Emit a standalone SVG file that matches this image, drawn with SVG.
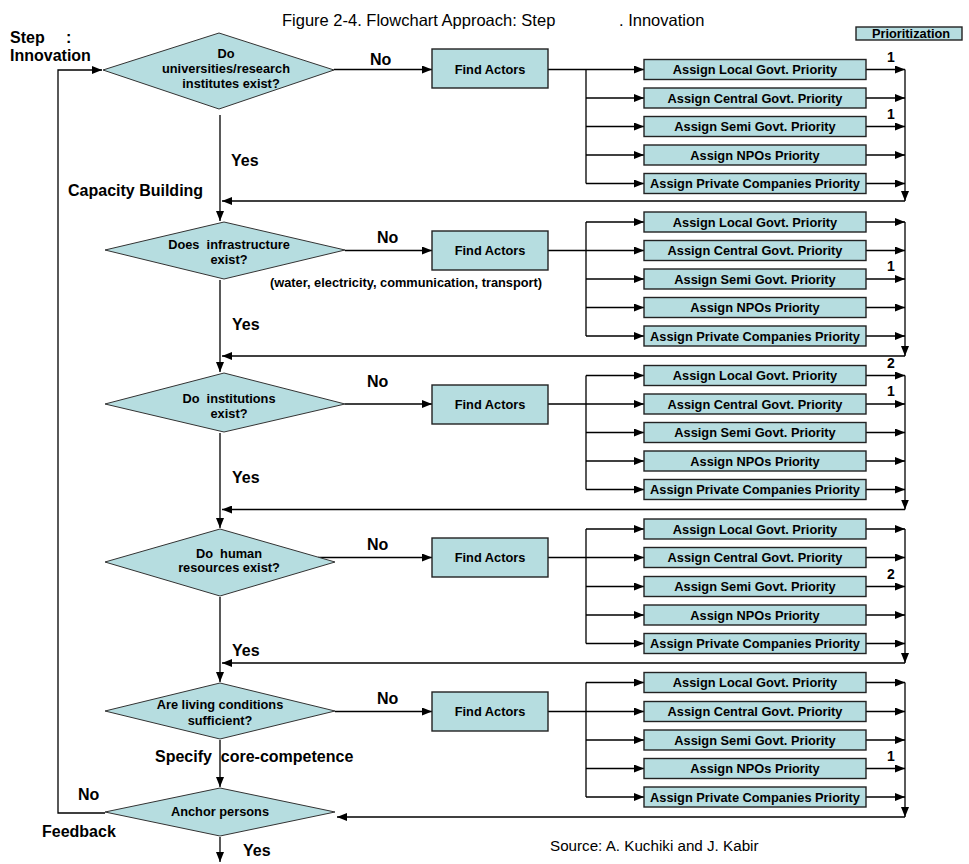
<svg xmlns="http://www.w3.org/2000/svg" width="969" height="864" viewBox="0 0 969 864">
<style>
text{font-family:"Liberation Sans",Arial,sans-serif;fill:#000}
.b{font-weight:bold}
.lbl{font-size:16px;font-weight:bold}
.nt{font-size:12.8px;font-weight:bold;text-anchor:middle}
.num{font-size:14px;font-weight:bold;text-anchor:middle}
.box{fill:#b6dde0;stroke:#222;stroke-width:1.4}
.dia{fill:#b6dde0;stroke:#333;stroke-width:1}
.ln{fill:none;stroke:#000;stroke-width:1.3}
.ar{marker-end:url(#ah)}
</style>
<defs>
<marker id="ah" viewBox="0 0 10 8" refX="10" refY="4" markerWidth="10" markerHeight="8" markerUnits="userSpaceOnUse" orient="auto">
<path d="M0,0 L10,4 L0,8 z" fill="#000"/>
</marker>
</defs>
<rect width="969" height="864" fill="#fff"/>

<text x="282" y="26" font-size="16.5">Figure 2-4. Flowchart Approach: Step<tspan x="619">. Innovation</tspan></text>
<text x="10" y="43" class="lbl">Step<tspan x="66">:</tspan></text>
<text x="10" y="61" class="lbl">Innovation</text>
<text x="550" y="851" font-size="15.2">Source: A. Kuchiki and J. Kabir</text>

<g id="prioritization">
<rect class="box" x="856" y="27" width="106" height="13"/>
<text class="nt" x="911" y="37.5" font-size="12">Prioritization</text>
</g>

<g id="connectors">
<path class="ln ar" d="M220,115 V221"/>
<path class="ln ar" d="M220,280 V372"/>
<path class="ln ar" d="M220,433 V528"/>
<path class="ln ar" d="M220,597 V682"/>
<path class="ln ar" d="M220,740 V787"/>
<path class="ln ar" d="M220,837 V862"/>
<path class="ln ar" d="M105,813 H58 V70 H102"/>
<path class="ln ar" d="M334,69.5 H432"/>
<path class="ln ar" d="M345,250.5 H432"/>
<path class="ln ar" d="M345,404 H432"/>
<path class="ln ar" d="M318,557.5 H432"/>
<path class="ln ar" d="M335,711.5 H432"/>
<!-- section 1 -->
<path class="ln" d="M548,69.5 H586 M586,69.5 V183.5"/>
<path class="ln ar" d="M586,69.5 H644"/>
<path class="ln ar" d="M586,98 H644"/>
<path class="ln ar" d="M586,126.5 H644"/>
<path class="ln ar" d="M586,155 H644"/>
<path class="ln ar" d="M586,183.5 H644"/>
<path class="ln ar" d="M866,69.5 H905"/>
<path class="ln ar" d="M866,98 H905"/>
<path class="ln ar" d="M866,126.5 H905"/>
<path class="ln ar" d="M866,155 H905"/>
<path class="ln ar" d="M866,183.5 H905"/>
<path class="ln ar" d="M905,69.5 V201"/>
<path class="ln ar" d="M905,201 H222"/>
<!-- section 2 -->
<path class="ln" d="M548,250.5 H586 M586,222 V336"/>
<path class="ln ar" d="M586,222 H644"/>
<path class="ln ar" d="M586,250.5 H644"/>
<path class="ln ar" d="M586,279 H644"/>
<path class="ln ar" d="M586,307.5 H644"/>
<path class="ln ar" d="M586,336 H644"/>
<path class="ln ar" d="M866,222 H905"/>
<path class="ln ar" d="M866,250.5 H905"/>
<path class="ln ar" d="M866,279 H905"/>
<path class="ln ar" d="M866,307.5 H905"/>
<path class="ln ar" d="M866,336 H905"/>
<path class="ln ar" d="M905,222 V356"/>
<path class="ln ar" d="M905,356 H222"/>
<!-- section 3 -->
<path class="ln" d="M548,404 H586 M586,375.5 V489.5"/>
<path class="ln ar" d="M586,375.5 H644"/>
<path class="ln ar" d="M586,404 H644"/>
<path class="ln ar" d="M586,432.5 H644"/>
<path class="ln ar" d="M586,461 H644"/>
<path class="ln ar" d="M586,489.5 H644"/>
<path class="ln ar" d="M866,375.5 H905"/>
<path class="ln ar" d="M866,404 H905"/>
<path class="ln ar" d="M866,432.5 H905"/>
<path class="ln ar" d="M866,461 H905"/>
<path class="ln ar" d="M866,489.5 H905"/>
<path class="ln ar" d="M905,375.5 V509.5"/>
<path class="ln ar" d="M905,509.5 H222"/>
<!-- section 4 -->
<path class="ln" d="M548,557.5 H586 M586,529 V643.5"/>
<path class="ln ar" d="M586,529 H644"/>
<path class="ln ar" d="M586,557.5 H644"/>
<path class="ln ar" d="M586,586.5 H644"/>
<path class="ln ar" d="M586,615 H644"/>
<path class="ln ar" d="M586,643.5 H644"/>
<path class="ln ar" d="M866,529 H905"/>
<path class="ln ar" d="M866,557.5 H905"/>
<path class="ln ar" d="M866,586.5 H905"/>
<path class="ln ar" d="M866,615 H905"/>
<path class="ln ar" d="M866,643.5 H905"/>
<path class="ln ar" d="M905,529 V663"/>
<path class="ln ar" d="M905,663 H222"/>
<!-- section 5 -->
<path class="ln" d="M548,711.5 H586 M586,682.5 V797"/>
<path class="ln ar" d="M586,682.5 H644"/>
<path class="ln ar" d="M586,711.5 H644"/>
<path class="ln ar" d="M586,740 H644"/>
<path class="ln ar" d="M586,768.5 H644"/>
<path class="ln ar" d="M586,797 H644"/>
<path class="ln ar" d="M866,682.5 H905"/>
<path class="ln ar" d="M866,711.5 H905"/>
<path class="ln ar" d="M866,740 H905"/>
<path class="ln ar" d="M866,768.5 H905"/>
<path class="ln ar" d="M866,797 H905"/>
<path class="ln ar" d="M905,682.5 V817"/>
<path class="ln ar" d="M905,817 H337"/>
</g>

<g id="edge-labels">
<text class="lbl" x="370" y="65">No</text>
<text class="lbl" x="231" y="166">Yes</text>
<text class="lbl" x="68" y="196">Capacity Building</text>
<text class="lbl" x="377" y="243">No</text>
<text x="270" y="287" font-size="12.8" class="b">(water, electricity, communication, transport)</text>
<text class="lbl" x="232" y="330">Yes</text>
<text class="lbl" x="367" y="387">No</text>
<text class="lbl" x="232" y="483">Yes</text>
<text class="lbl" x="367" y="550">No</text>
<text class="lbl" x="232" y="656">Yes</text>
<text class="lbl" x="377" y="704">No</text>
<text class="lbl" x="155" y="762" xml:space="preserve">Specify  core-competence</text>
<text class="lbl" x="78" y="800">No</text>
<text class="lbl" x="42" y="837">Feedback</text>
<text class="lbl" x="243" y="856">Yes</text>
<text class="num" x="891" y="61.5">1</text>
<text class="num" x="891" y="118.5">1</text>
<text class="num" x="891" y="271">1</text>
<text class="num" x="891" y="367.5">2</text>
<text class="num" x="891" y="396">1</text>
<text class="num" x="891" y="578.5">2</text>
<text class="num" x="891" y="760.5">1</text>
</g>

<g id="d1">
<polygon class="dia" points="103,70 219,33 334,70 219,109"/>
<text class="nt" x="226" y="58">Do</text>
<text class="nt" x="226" y="73">universities/research</text>
<text class="nt" x="231" y="88">institutes exist?</text>
</g>
<g id="d2">
<polygon class="dia" points="105,250 224,222 345,250 224,279"/>
<text class="nt" x="229" y="249" xml:space="preserve">Does  infrastructure</text>
<text class="nt" x="229" y="264">exist?</text>
</g>
<g id="d3">
<polygon class="dia" points="105,404 224,373 345,404 224,432"/>
<text class="nt" x="229" y="403" xml:space="preserve">Do  institutions</text>
<text class="nt" x="229" y="418">exist?</text>
</g>
<g id="d4">
<polygon class="dia" points="105,562 220,529 335,562 220,596"/>
<text class="nt" x="229" y="557.5" xml:space="preserve">Do  human</text>
<text class="nt" x="229" y="572">resources exist?</text>
</g>
<g id="d5">
<polygon class="dia" points="105,711 220,683 335,711 220,739"/>
<text class="nt" x="220" y="709">Are living conditions</text>
<text class="nt" x="220" y="725">sufficient?</text>
</g>
<g id="d6">
<polygon class="dia" points="105,812 220,788 335,812 220,836"/>
<text class="nt" x="220" y="816">Anchor persons</text>
</g>

<g id="fa1"><rect class="box" x="432" y="49" width="116" height="39"/><text class="nt" x="490" y="74">Find Actors</text></g>
<g id="fa2"><rect class="box" x="432" y="231" width="116" height="39"/><text class="nt" x="490" y="255">Find Actors</text></g>
<g id="fa3"><rect class="box" x="432" y="385" width="116" height="39"/><text class="nt" x="490" y="409">Find Actors</text></g>
<g id="fa4"><rect class="box" x="432" y="538" width="116" height="39"/><text class="nt" x="490" y="562">Find Actors</text></g>
<g id="fa5"><rect class="box" x="432" y="692" width="116" height="39"/><text class="nt" x="490" y="716">Find Actors</text></g>

<g id="s1-local"><rect class="box" x="644" y="59.5" width="222" height="20"/><text class="nt" x="755" y="74">Assign Local Govt. Priority</text></g>
<g id="s1-central"><rect class="box" x="644" y="88" width="222" height="20"/><text class="nt" x="755" y="102.5">Assign Central Govt. Priority</text></g>
<g id="s1-semi"><rect class="box" x="644" y="116.5" width="222" height="20"/><text class="nt" x="755" y="131">Assign Semi Govt. Priority</text></g>
<g id="s1-npo"><rect class="box" x="644" y="145" width="222" height="20"/><text class="nt" x="755" y="159.5">Assign NPOs Priority</text></g>
<g id="s1-private"><rect class="box" x="644" y="173.5" width="222" height="20"/><text class="nt" x="755" y="188">Assign Private Companies Priority</text></g>

<g id="s2-local"><rect class="box" x="644" y="212" width="222" height="20"/><text class="nt" x="755" y="226.5">Assign Local Govt. Priority</text></g>
<g id="s2-central"><rect class="box" x="644" y="240.5" width="222" height="20"/><text class="nt" x="755" y="255">Assign Central Govt. Priority</text></g>
<g id="s2-semi"><rect class="box" x="644" y="269" width="222" height="20"/><text class="nt" x="755" y="283.5">Assign Semi Govt. Priority</text></g>
<g id="s2-npo"><rect class="box" x="644" y="297.5" width="222" height="20"/><text class="nt" x="755" y="312">Assign NPOs Priority</text></g>
<g id="s2-private"><rect class="box" x="644" y="326" width="222" height="20"/><text class="nt" x="755" y="340.5">Assign Private Companies Priority</text></g>

<g id="s3-local"><rect class="box" x="644" y="365.5" width="222" height="20"/><text class="nt" x="755" y="380">Assign Local Govt. Priority</text></g>
<g id="s3-central"><rect class="box" x="644" y="394" width="222" height="20"/><text class="nt" x="755" y="408.5">Assign Central Govt. Priority</text></g>
<g id="s3-semi"><rect class="box" x="644" y="422.5" width="222" height="20"/><text class="nt" x="755" y="437">Assign Semi Govt. Priority</text></g>
<g id="s3-npo"><rect class="box" x="644" y="451" width="222" height="20"/><text class="nt" x="755" y="465.5">Assign NPOs Priority</text></g>
<g id="s3-private"><rect class="box" x="644" y="479.5" width="222" height="20"/><text class="nt" x="755" y="494">Assign Private Companies Priority</text></g>

<g id="s4-local"><rect class="box" x="644" y="519" width="222" height="20"/><text class="nt" x="755" y="533.5">Assign Local Govt. Priority</text></g>
<g id="s4-central"><rect class="box" x="644" y="547.5" width="222" height="20"/><text class="nt" x="755" y="562">Assign Central Govt. Priority</text></g>
<g id="s4-semi"><rect class="box" x="644" y="576.5" width="222" height="20"/><text class="nt" x="755" y="591">Assign Semi Govt. Priority</text></g>
<g id="s4-npo"><rect class="box" x="644" y="605" width="222" height="20"/><text class="nt" x="755" y="619.5">Assign NPOs Priority</text></g>
<g id="s4-private"><rect class="box" x="644" y="633.5" width="222" height="20"/><text class="nt" x="755" y="648">Assign Private Companies Priority</text></g>

<g id="s5-local"><rect class="box" x="644" y="672.5" width="222" height="20"/><text class="nt" x="755" y="687">Assign Local Govt. Priority</text></g>
<g id="s5-central"><rect class="box" x="644" y="701.5" width="222" height="20"/><text class="nt" x="755" y="716">Assign Central Govt. Priority</text></g>
<g id="s5-semi"><rect class="box" x="644" y="730" width="222" height="20"/><text class="nt" x="755" y="744.5">Assign Semi Govt. Priority</text></g>
<g id="s5-npo"><rect class="box" x="644" y="758.5" width="222" height="20"/><text class="nt" x="755" y="773">Assign NPOs Priority</text></g>
<g id="s5-private"><rect class="box" x="644" y="787" width="222" height="20"/><text class="nt" x="755" y="801.5">Assign Private Companies Priority</text></g>
</svg>
